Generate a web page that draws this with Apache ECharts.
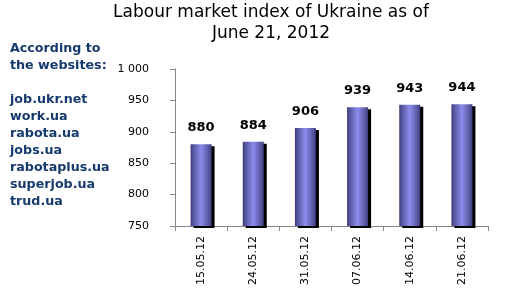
<!DOCTYPE html>
<html><head><meta charset="utf-8">
<script src="https://cdn.jsdelivr.net/npm/echarts@6/dist/echarts.min.js"></script>
<style>html,body{margin:0;padding:0;background:#fff}#c{width:509px;height:297px}</style>
</head><body><div id="c"></div>
<script>
var categories = ['15.05.12','24.05.12','31.05.12','07.06.12','14.06.12','21.06.12'];
var values = [880, 884, 906, 939, 943, 944];
var yTicks = [750, 800, 850, 900, 950, 1000];
var titleText = 'Labour market index of Ukraine as of\nJune 21, 2012';
var sideHeader = ['According to', 'the websites:'];
var sites = ['job.ukr.net','work.ua','rabota.ua','jobs.ua','rabotaplus.ua','superjob.ua','trud.ua'];

var chart = echarts.init(document.getElementById('c'));
var graphics = [];
sideHeader.forEach(function(t, i){
  graphics.push({type:'text', left: 10, top: 42 + i*17, style:{text:t, fill:'#163a6e', font:'bold 12.7px "DejaVu Sans"'}});
});
sites.forEach(function(t, i){
  graphics.push({type:'text', left: 10, top: 93 + i*17, style:{text:t, fill:'#163a6e', font:'bold 12.7px "DejaVu Sans"'}});
});
chart.setOption({
  animation:false,
  title:{text:titleText, left:266, textAlign:'center', top:-3,
    textStyle:{fontFamily:'DejaVu Sans', fontWeight:'normal', fontSize:17, color:'#000', lineHeight:21}},
  graphic: graphics,
  grid:{left:175, right:21, top:69, bottom:71},
  xAxis:{type:'category', data:categories,
    axisLine:{lineStyle:{color:'#888', width:1}},
    axisTick:{show:true, lineStyle:{color:'#888'}, length:5},
    axisLabel:{rotate:90, margin:10, fontFamily:'DejaVu Sans', fontSize:11, color:'#000'}},
  yAxis:{type:'value', min:yTicks[0], max:yTicks[yTicks.length-1], interval:50,
    splitLine:{show:false},
    axisLine:{show:true, lineStyle:{color:'#888'}},
    axisTick:{show:true, lineStyle:{color:'#888'}, length:5},
    axisLabel:{fontFamily:'DejaVu Sans', fontSize:11, color:'#000', margin:26,
      formatter:function(v){return v>=1000 ? '1 000' : String(v);}}},
  series:[{type:'bar', data:values, barWidth:21,
    itemStyle:{
      color:{type:'linear', x:0, y:0, x2:1, y2:0, colorStops:[
        {offset:0, color:'#3a3a78'},{offset:0.12, color:'#55559c'},{offset:0.5, color:'#8c8cee'},{offset:0.88, color:'#55559c'},{offset:1, color:'#3a3a78'}]},
      borderWidth:0,
      shadowColor:'#000', shadowBlur:0, shadowOffsetX:3, shadowOffsetY:2},
    label:{show:true, position:'top', distance:10, fontFamily:'DejaVu Sans', fontWeight:'bold', fontSize:13, color:'#000'}
  }]
});
</script></body></html>
